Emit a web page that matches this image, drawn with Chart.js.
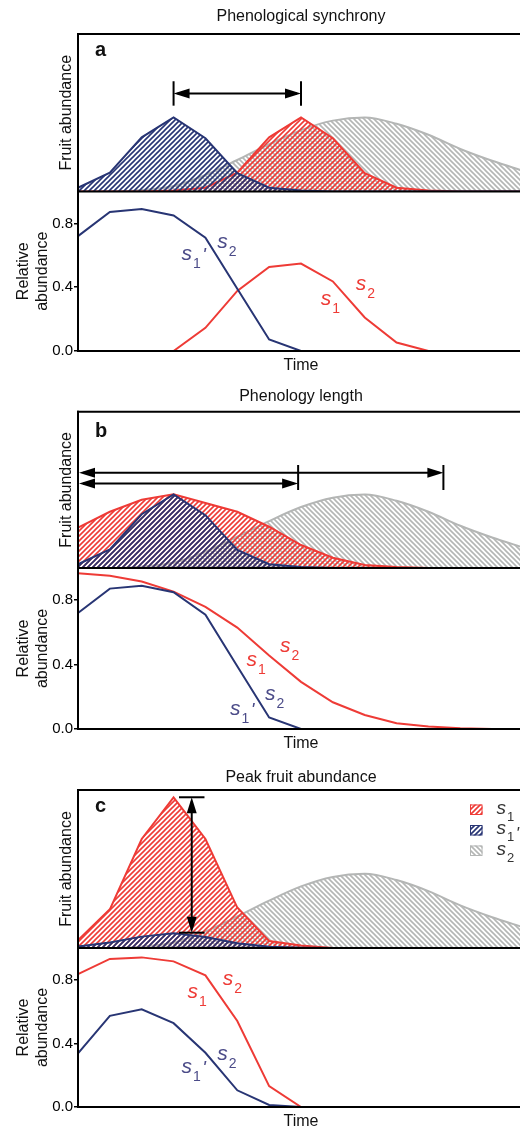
<!DOCTYPE html>
<html>
<head>
<meta charset="utf-8">
<script src="https://cdn.jsdelivr.net/npm/chart.js@4/dist/chart.umd.min.js"></script>
<style>
  html, body { margin: 0; padding: 0; background: #fff; overflow: hidden; }
  #wrap { position: relative; width: 520px; height: 1126px; overflow: hidden; }
  #wrap canvas { position: absolute; left: 0; top: 0; }
</style>
</head>
<body>
<div id="wrap">
  <canvas id="aFruit" width="525" height="1126"></canvas>
  <canvas id="aRel" width="525" height="1126"></canvas>
  <canvas id="bFruit" width="525" height="1126"></canvas>
  <canvas id="bRel" width="525" height="1126"></canvas>
  <canvas id="cFruit" width="525" height="1126"></canvas>
  <canvas id="cRel" width="525" height="1126"></canvas>
</div>
<script>
// time steps along the x axis
const timeSteps = ['0', '1', '2', '3', '4', '5', '6', '7', '8', '9', '10', '11', '12', '13', '14'];
const relTicks = [0, 0.4, 0.8];

// s2 is the same in every panel
const fruitS2 = [0, 0, 0.01, 0.035, 0.105, 0.2, 0.3, 0.39, 0.45, 0.47, 0.43, 0.36, 0.27, 0.195, 0.13];

// a: phenological synchrony
const aFruitS1 = [0, 0, 0, 0.006, 0.024, 0.119, 0.344, 0.471, 0.338, 0.116, 0.024, 0.006, 0, 0, 0];
const aFruitS1p = [0.024, 0.119, 0.344, 0.471, 0.338, 0.116, 0.024, 0.006, 0, 0, 0, 0, 0, 0, 0];
const aRelS1 = [null, null, null, 0, 0.145, 0.377, 0.527, 0.548, 0.436, 0.21, 0.053, 0, 0, 0, 0];
const aRelS1p = [0.72, 0.872, 0.89, 0.85, 0.71, 0.39, 0.072, 0, null, null, null, null, null, null, null];

// b: phenology length
const bFruitS1 = [0.258, 0.36, 0.437, 0.472, 0.416, 0.36, 0.264, 0.147, 0.066, 0.019, 0.006, 0, 0, 0, 0];
const bFruitS1p = [0.024, 0.119, 0.344, 0.471, 0.338, 0.116, 0.024, 0.006, 0, 0, 0, 0, 0, 0, 0];
const bRelS1 = [0.968, 0.952, 0.916, 0.853, 0.758, 0.63, 0.457, 0.293, 0.166, 0.087, 0.036, 0.015, 0.005, 0, 0];
const bRelS1p = [0.72, 0.872, 0.89, 0.85, 0.71, 0.39, 0.072, 0, null, null, null, null, null, null, null];

// c: peak fruit abundance
const cFruitS1 = [0.05, 0.245, 0.69, 0.953, 0.69, 0.256, 0.044, 0.016, 0, 0, 0, 0, 0, 0, 0];
const cFruitS1p = [0.01, 0.035, 0.072, 0.094, 0.07, 0.03, 0.008, 0.002, 0, 0, 0, 0, 0, 0, 0];
const cRelS1 = [0.836, 0.931, 0.941, 0.916, 0.828, 0.541, 0.131, 0, null, null, null, null, null, null, null];
const cRelS1p = [0.337, 0.573, 0.615, 0.527, 0.341, 0.105, 0.013, 0, null, null, null, null, null, null, null];

// annotations, in data units (x = time step, y = axis value)
const aArrow = { from: 3, to: 7, y: 0.623, tickLo: 0.545, tickHi: 0.70 };
const bArrows = [{ from: 0, to: 11.47, y: 0.609 }, { from: 0, to: 6.91, y: 0.541 }];
const bTicks = { at: [6.91, 11.47], lo: 0.499, hi: 0.659 };
const cArrow = { x: 3.57, from: 0.097, to: 0.954, half: 0.4 };

const aRelLabels = [
  { sub: '1', prime: true, x: 3.25, y: 0.572, who: 's1p' },
  { sub: '2', x: 4.37, y: 0.646, who: 's1p' },
  { sub: '1', x: 7.62, y: 0.289, who: 's1' },
  { sub: '2', x: 8.72, y: 0.384, who: 's1' }
];
const bRelLabels = [
  { sub: '1', prime: true, x: 4.77, y: 0.088, who: 's1p' },
  { sub: '2', x: 5.87, y: 0.182, who: 's1p' },
  { sub: '1', x: 5.29, y: 0.392, who: 's1' },
  { sub: '2', x: 6.34, y: 0.476, who: 's1' }
];
const cRelLabels = [
  { sub: '1', prime: true, x: 3.25, y: 0.212, who: 's1p' },
  { sub: '2', x: 4.37, y: 0.296, who: 's1p' },
  { sub: '1', x: 3.44, y: 0.684, who: 's1' },
  { sub: '2', x: 4.54, y: 0.767, who: 's1' }
];

const FONT = '"Liberation Sans", Arial, Helvetica, sans-serif';
const H = 1126;
const RED = '#ee3b36';
const NAVY = '#283574';
const GRAY = '#b4b6b5';
const LABEL_NAVY = '#4b4b88';

Chart.defaults.font.family = FONT;
Chart.defaults.font.size = 14;
Chart.defaults.color = '#000';

const hatch = (color, dir, width) => {
  const t = document.createElement('canvas');
  t.width = 5; t.height = 5;
  const g = t.getContext('2d');
  g.strokeStyle = color;
  g.lineWidth = width;
  g.beginPath();
  if (dir === '/') {
    g.moveTo(-1, 6); g.lineTo(6, -1);
    g.moveTo(-1, 1); g.lineTo(1, -1);
    g.moveTo(4, 6); g.lineTo(6, 4);
  } else {
    g.moveTo(-1, -1); g.lineTo(6, 6);
    g.moveTo(-1, 4); g.lineTo(1, 6);
    g.moveTo(4, -1); g.lineTo(6, 1);
  }
  g.stroke();
  return g.createPattern(t, 'repeat');
}

const redHatch = hatch(RED, '/', 1.6);
const navyHatch = hatch(NAVY, '/', 1.6);
const grayHatch = hatch(GRAY, '\\', 1.6);

const panels = {
  a: { title: 'Phenological synchrony', titleY: 21, top: 34, sep: 191.5, bottom: 351, timeY: 370, letterY: 55.5 },
  b: { title: 'Phenology length', titleY: 401, top: 411.7, sep: 568, bottom: 729, timeY: 748.3, letterY: 436.7 },
  c: { title: 'Peak fruit abundance', titleY: 782, top: 790, sep: 948, bottom: 1107, timeY: 1125.5, letterY: 811.7 }
};

const line = (ctx, x1, y1, x2, y2, w) => {
  ctx.beginPath();
  ctx.lineWidth = w;
  ctx.moveTo(x1, y1);
  ctx.lineTo(x2, y2);
  ctx.stroke();
}

// tip at (x, y), pointing along (dx, dy)
const head = (ctx, x, y, dx, dy) => {
  const len = 16, half = 5;
  ctx.beginPath();
  ctx.moveTo(x, y);
  ctx.lineTo(x - dx * len - dy * half, y - dy * len + dx * half);
  ctx.lineTo(x - dx * len + dy * half, y - dy * len - dx * half);
  ctx.closePath();
  ctx.fill();
}

// italic s with subscript and optional prime
const symbol = (ctx, x, y, sub, prime, color, size, primeDy) => {
  ctx.save();
  ctx.fillStyle = color;
  ctx.textAlign = 'left';
  ctx.textBaseline = 'alphabetic';
  ctx.font = `italic ${size}px ${FONT}`;
  ctx.fillText('s', x, y);
  const w = ctx.measureText('s').width;
  ctx.font = `${Math.round(size * 0.66)}px ${FONT}`;
  ctx.fillText(sub, x + w + 1, y + size * 0.38);
  const sw = ctx.measureText(sub).width;
  if (prime) {
    ctx.font = `italic ${Math.round(size * 0.9)}px ${FONT}`;
    ctx.fillText("'", x + w + sw + 2.5, y + primeDy);
  }
  ctx.restore();
}

const fruitChart = (id, key, s1, s1p, extra) => {
  const p = panels[key];
  return new Chart(document.getElementById(id), {
    type: 'line',
    data: {
      labels: timeSteps,
      datasets: [
        { label: "s1'", data: s1p, borderColor: NAVY, backgroundColor: navyHatch, fill: 'origin', borderWidth: 2, pointRadius: 0, tension: 0 },
        { label: 's1', data: s1, borderColor: RED, backgroundColor: redHatch, fill: 'origin', borderWidth: 2, pointRadius: 0, tension: 0 },
        { label: 's2', data: fruitS2, borderColor: GRAY, backgroundColor: grayHatch, fill: 'origin', borderWidth: 2, pointRadius: 0, cubicInterpolationMode: 'monotone' }
      ]
    },
    options: {
      responsive: false,
      animation: false,
      layout: { padding: { left: 78, right: 1, top: p.top, bottom: H - p.sep } },
      scales: {
        x: { display: false },
        y: { display: false, min: 0, max: 1 }
      },
      plugins: { legend: { display: false }, tooltip: { enabled: false } }
    },
    plugins: [{
      id: 'fruitDeco',
      afterDraw(chart) {
        const { ctx, chartArea: a, scales } = chart;
        ctx.save();
        ctx.strokeStyle = '#000';
        ctx.fillStyle = '#000';
        line(ctx, a.left - 1, a.top, a.right + 2, a.top, 2);
        line(ctx, a.left, a.top - 1, a.left, a.bottom + 1, 2);
        line(ctx, a.left - 1, a.bottom, a.right + 2, a.bottom, 2.2);

        // title and panel letter
        ctx.fillStyle = '#111';
        ctx.textAlign = 'center';
        ctx.textBaseline = 'alphabetic';
        ctx.font = `16px ${FONT}`;
        ctx.fillText(p.title, (a.left + a.right) / 2, p.titleY);
        ctx.textAlign = 'left';
        ctx.font = `bold 20px ${FONT}`;
        ctx.fillText(key, 95, p.letterY);

        // y axis title
        ctx.save();
        ctx.translate(70.5, (a.top + a.bottom) / 2);
        ctx.rotate(-Math.PI / 2);
        ctx.textAlign = 'center';
        ctx.font = `16px ${FONT}`;
        ctx.fillText('Fruit abundance', 0, 0);
        ctx.restore();

        ctx.fillStyle = '#000';
        ctx.strokeStyle = '#000';
        extra(ctx, scales.x, scales.y, a);
        ctx.restore();
      }
    }]
  });
}

const relChart = (id, key, s1, s1p, labels) => {
  const p = panels[key];
  return new Chart(document.getElementById(id), {
    type: 'line',
    data: {
      labels: timeSteps,
      datasets: [
        { label: "s1'", data: s1p, borderColor: NAVY, borderWidth: 2, pointRadius: 0, tension: 0, fill: false },
        { label: 's1', data: s1, borderColor: RED, borderWidth: 2, pointRadius: 0, tension: 0, fill: false }
      ]
    },
    options: {
      responsive: false,
      animation: false,
      layout: { padding: { left: 0, right: 1, top: p.sep, bottom: H - p.bottom } },
      scales: {
        x: { display: false },
        y: {
          min: 0, max: 1,
          afterFit: (s) => { s.width = 78; },
          afterBuildTicks: (s) => { s.ticks = relTicks.map(v => ({ value: v })); },
          ticks: { callback: (v) => Number(v).toFixed(1), padding: 1, color: '#000', font: { size: 15 } },
          grid: { drawOnChartArea: false, drawTicks: true, tickLength: 4, color: '#000', lineWidth: 1.5 },
          border: { display: false }
        }
      },
      plugins: { legend: { display: false }, tooltip: { enabled: false } }
    },
    plugins: [{
      id: 'relDeco',
      afterDraw(chart) {
        const { ctx, chartArea: a, scales } = chart;
        ctx.save();
        ctx.strokeStyle = '#000';
        line(ctx, a.left, a.top - 1, a.left, a.bottom + 1, 2);
        line(ctx, a.left - 1, a.bottom, a.right + 2, a.bottom, 2.2);

        ctx.fillStyle = '#111';
        ctx.textAlign = 'center';
        ctx.textBaseline = 'alphabetic';
        ctx.font = `16px ${FONT}`;
        ctx.fillText('Time', (a.left + a.right) / 2, p.timeY);

        ctx.save();
        ctx.translate(0, (a.top + a.bottom) / 2);
        ctx.rotate(-Math.PI / 2);
        ctx.fillText('Relative', 0, 28.3);
        ctx.fillText('abundance', 0, 46.7);
        ctx.restore();

        labels.forEach(l => {
          const color = l.who === 's1' ? RED : LABEL_NAVY;
          symbol(ctx, scales.x.getPixelForValue(l.x), scales.y.getPixelForValue(l.y), l.sub, l.prime, color, 21, 1);
        });
        ctx.restore();
      }
    }]
  });
}

fruitChart('aFruit', 'a', aFruitS1, aFruitS1p, (ctx, xs, ys) => {
  const x1 = xs.getPixelForValue(aArrow.from), x2 = xs.getPixelForValue(aArrow.to);
  const y = ys.getPixelForValue(aArrow.y);
  line(ctx, x1 + 4, y, x2 - 4, y, 2);
  head(ctx, x1, y, -1, 0);
  head(ctx, x2, y, 1, 0);
  [x1, x2].forEach(x => line(ctx, x, ys.getPixelForValue(aArrow.tickHi), x, ys.getPixelForValue(aArrow.tickLo), 2));
});
relChart('aRel', 'a', aRelS1, aRelS1p, aRelLabels);

fruitChart('bFruit', 'b', bFruitS1, bFruitS1p, (ctx, xs, ys) => {
  bArrows.forEach(ar => {
    const x1 = xs.getPixelForValue(ar.from) + 1, x2 = xs.getPixelForValue(ar.to);
    const y = ys.getPixelForValue(ar.y);
    line(ctx, x1 + 4, y, x2 - 4, y, 2);
    head(ctx, x1, y, -1, 0);
    head(ctx, x2, y, 1, 0);
  });
  bTicks.at.forEach(t => {
    const x = xs.getPixelForValue(t);
    line(ctx, x, ys.getPixelForValue(bTicks.hi), x, ys.getPixelForValue(bTicks.lo), 2);
  });
});
relChart('bRel', 'b', bRelS1, bRelS1p, bRelLabels);

fruitChart('cFruit', 'c', cFruitS1, cFruitS1p, (ctx, xs, ys, a) => {
  const x = xs.getPixelForValue(cArrow.x);
  const y1 = ys.getPixelForValue(cArrow.to), y2 = ys.getPixelForValue(cArrow.from);
  line(ctx, x, y1 + 4, x, y2 - 4, 2);
  head(ctx, x, y1, 0, -1);
  head(ctx, x, y2, 0, 1);
  const xl = xs.getPixelForValue(cArrow.x - cArrow.half), xr = xs.getPixelForValue(cArrow.x + cArrow.half);
  line(ctx, xl, y1, xr, y1, 2);
  line(ctx, xl, y2, xr, y2, 2);

  // legend
  const items = [
    { fill: redHatch, stroke: RED, sub: '1', prime: false },
    { fill: navyHatch, stroke: NAVY, sub: '1', prime: true },
    { fill: grayHatch, stroke: GRAY, sub: '2', prime: false }
  ];
  items.forEach((it, i) => {
    const top = a.top + 14.5 + i * 20.5;
    ctx.fillStyle = it.fill;
    ctx.fillRect(470, top, 12.5, 10.5);
    ctx.strokeStyle = it.stroke;
    ctx.lineWidth = 1;
    ctx.strokeRect(470.5, top + 0.5, 11.5, 9.5);
    symbol(ctx, 496.5, top + 9, it.sub, it.prime, '#333', 19, 5);
  });
});
relChart('cRel', 'c', cRelS1, cRelS1p, cRelLabels);
</script>
</body>
</html>
